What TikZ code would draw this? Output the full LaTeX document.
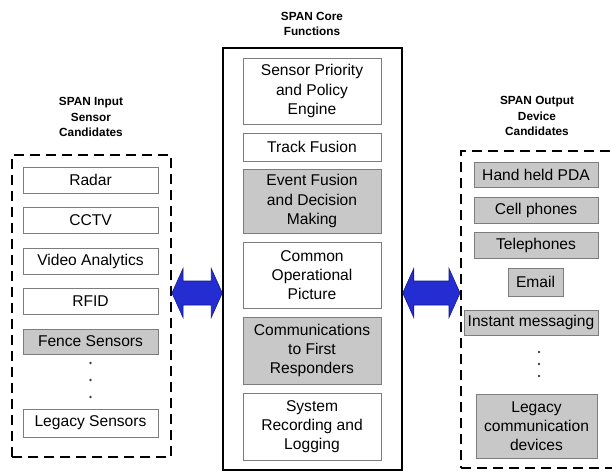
\documentclass[tikz,border=0pt]{standalone}
\usepackage{fontspec}
\setmainfont{Liberation Sans}
\usetikzlibrary{calc}

\definecolor{boxgray}{RGB}{200,200,200}
\definecolor{edgegray}{RGB}{125,125,125}
\definecolor{arrowblue}{RGB}{35,45,210}
\definecolor{arrowedge}{RGB}{20,25,140}

\tikzset{
  cand/.style={draw=edgegray, line width=0.9pt, inner sep=0pt, align=center,
    font=\fontsize{15.6}{19.3}\selectfont},
  shaded/.style={cand, fill=boxgray},
  heading/.style={align=center, font=\bfseries\fontsize{11.8}{15.5}\selectfont},
  dashbox/.style={draw, line width=2pt, dash pattern=on 10pt off 6pt, inner sep=0pt},
  corebox/.style={draw, line width=1.5pt, inner sep=0pt},
  dotmark/.style={circle, fill=black!75, inner sep=0pt, minimum size=2.6pt},
  twowayarrow/.style={fill=arrowblue, draw=arrowedge, line width=0.6pt, line join=miter},
}

% fat blue double arrow between two points on one row
\newcommand{\twoway}[2]{%
  \path (#1) coordinate (tipA) (#2) coordinate (tipB);
  \draw[twowayarrow] (tipA) -- ($(tipA)+(11,-24.5)$) -- ($(tipA)+(11,-12)$)
    -- ($(tipB)+(-11,-12)$) -- ($(tipB)+(-11,-24.5)$) -- (tipB)
    -- ($(tipB)+(-11,24.5)$) -- ($(tipB)+(-11,12)$)
    -- ($(tipA)+(11,12)$) -- ($(tipA)+(11,24.5)$) -- cycle;
}

\begin{document}
\begin{tikzpicture}[x=1pt,y=-1pt]
\useasboundingbox (0,0) rectangle (612,472);
\clip (0,0) rectangle (612,472);

% outer frames
\path (91.5,306) node[dashbox, minimum width=159pt, minimum height=302pt] (inbox) {}
      (312.5,259) node[corebox, minimum width=179pt, minimum height=422pt] (core) {}
      (551,309.5) node[dashbox, minimum width=180pt, minimum height=317pt] (outbox) {};

% headings
\path (91,117) node[heading] (intitle) {SPAN Input\\Sensor\\Candidates}
      (312,24) node[heading] (coretitle) {SPAN Core\\Functions}
      (537,116) node[heading] (outtitle) {SPAN Output\\Device\\Candidates};

% input sensors
\path (90.5,180) node[cand, minimum width=135pt, minimum height=26pt] (radar) {Radar}
      (90.5,220) node[cand, minimum width=135pt, minimum height=26pt] (cctv) {CCTV}
      (90.5,261) node[cand, minimum width=135pt, minimum height=26pt] (video) {Video Analytics}
      (90.5,301) node[cand, minimum width=135pt, minimum height=26pt] (rfid) {RFID}
      (90.5,341.5) node[shaded, minimum width=135pt, minimum height=25pt] (fence) {Fence Sensors}
      (90.5,363) node[dotmark] (indot1) {}
      (90.5,380) node[dotmark] (indot2) {}
      (90.5,397) node[dotmark] (indot3) {}
      (90.5,423) node[cand, minimum width=135pt, minimum height=28pt] (legacy) {Legacy Sensors};

% core functions
\path (312,91) node[cand, minimum width=138pt, minimum height=66pt] (priority) {Sensor Priority\\and Policy\\Engine}
      (312,147) node[cand, minimum width=138pt, minimum height=28pt] (track) {Track Fusion}
      (312,201) node[shaded, minimum width=138pt, minimum height=64pt] (event) {Event Fusion\\and Decision\\Making}
      (312,275) node[cand, minimum width=138pt, minimum height=66pt] (cop) {Common\\Operational\\Picture}
      (312,350.5) node[shaded, minimum width=138pt, minimum height=67pt] (comms) {Communications\\to First\\Responders}
      (312,426.5) node[cand, minimum width=138pt, minimum height=67pt] (record) {System\\Recording and\\Logging};

% output devices
\path (536,174.5) node[shaded, minimum width=124pt, minimum height=25pt] (pda) {Hand held PDA}
      (536,210) node[shaded, minimum width=124pt, minimum height=26pt] (cell) {Cell phones}
      (536,245) node[shaded, minimum width=124pt, minimum height=26pt] (tele) {Telephones}
      (535.5,282) node[shaded, minimum width=55pt, minimum height=28pt] (email) {Email}
      (531,322.5) node[shaded, minimum width=134pt, minimum height=25pt] (im) {Instant messaging}
      (539,352) node[dotmark] (outdot1) {}
      (539,364) node[dotmark] (outdot2) {}
      (539,376) node[dotmark] (outdot3) {}
      (536.5,426) node[shaded, minimum width=121pt, minimum height=64pt] (legcomm) {Legacy\\communication\\devices};

% links
\coordinate (arrowrow) at (0,293);
\twoway{inbox.east |- arrowrow}{core.west |- arrowrow}
\twoway{core.east |- arrowrow}{outbox.west |- arrowrow}

\end{tikzpicture}
\end{document}
